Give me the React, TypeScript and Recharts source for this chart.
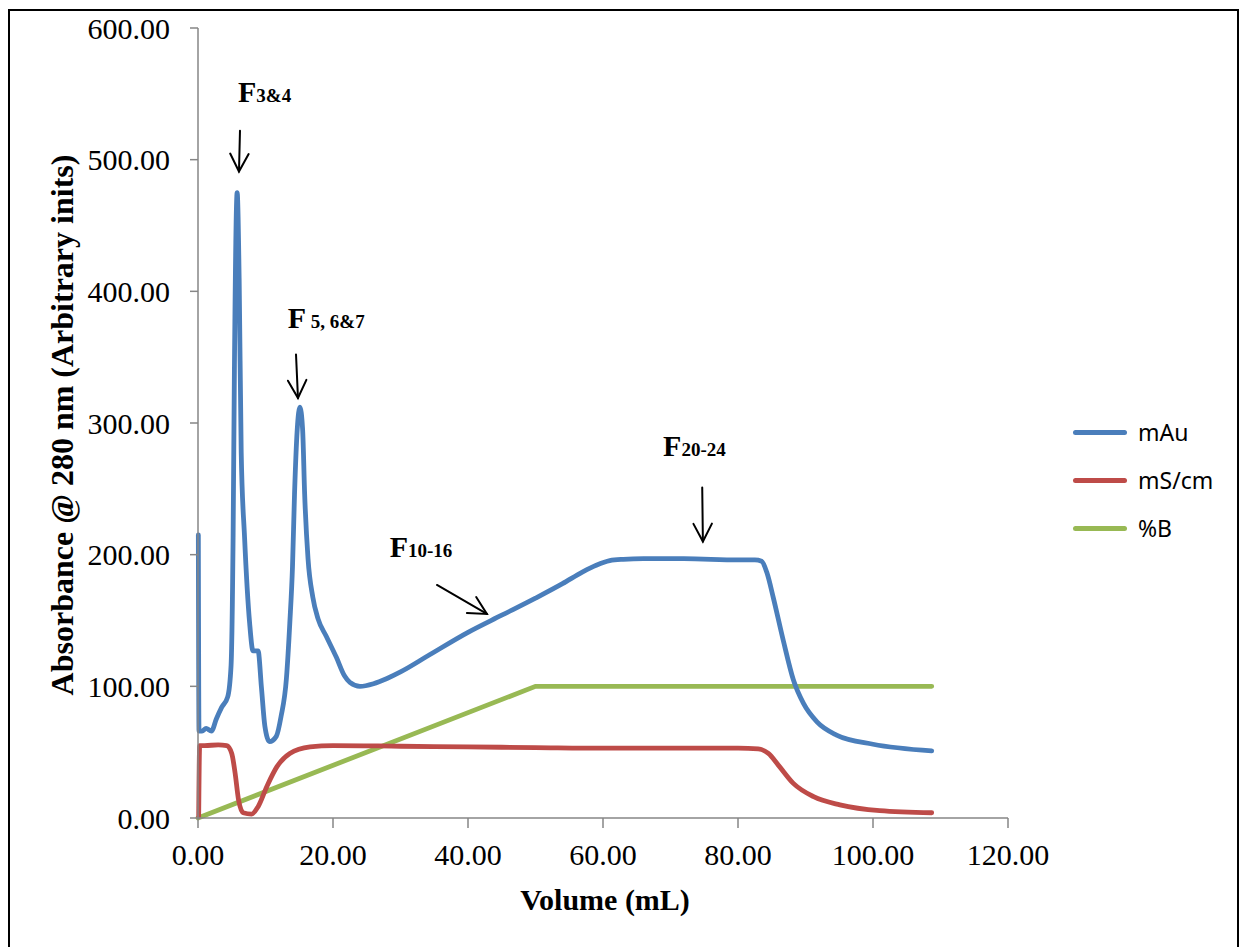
import React from "react";
import { CartesianGrid, Line, LineChart, XAxis, YAxis } from "recharts";

// chromatogram traces (volume in mL)
const mauVolume = [
  0.05, 0.15, 0.6, 1.2, 2.0, 2.7, 3.5, 4.4, 4.9, 5.2, 5.4, 5.8, 6.1, 6.4, 6.9, 7.65, 8.15, 8.9, 9.4,
  9.9, 10.6, 11.6, 12.3, 13.1, 13.6, 14.0, 14.3, 14.7, 15.1, 15.5, 15.8, 16.3, 17.0, 17.8, 19.0,
  20.5, 21.7, 22.5, 24, 26, 28, 30, 34, 40, 45, 50, 54, 57, 59, 61, 63, 66, 72, 80, 82.5, 83.5,
  84.3, 85.2, 86.7, 88.2, 89.7, 91.7, 94.6, 100, 108.7,
];
const mauValue = [
  215, 66, 66, 68, 66, 75, 84, 92, 116, 213, 344, 475, 409, 278, 213, 148, 127, 127, 99, 70, 58,
  62, 77, 106, 148, 191, 246, 295, 312, 295, 246, 197, 168, 151, 138, 122, 108, 103, 100, 102, 106,
  111, 123, 141, 154, 167, 178, 187, 192, 195.5, 196.5, 197, 197, 196, 196, 195, 186, 168, 135, 105,
  87, 73, 63, 56, 51,
];

const condVolume = [
  0.1, 0.25, 1.0, 3.0, 4.25, 5.0, 5.5, 6.0, 6.7, 7.95, 8.9, 10.2, 11.7, 13.6, 16.6, 20, 30, 40, 50,
  60, 70, 80, 83.0, 84.5, 86.0, 88.2, 91.2, 95.1, 101, 108.7,
];
const condValue = [
  1, 55, 55, 55.5, 55, 49, 34, 14, 4, 3, 8.6, 24, 39, 49, 54, 55, 54.5, 54, 53.5, 53, 53, 53, 52.5,
  49, 40, 26.3, 16.2, 10, 5.6, 4,
];

const bufferVolume = [0, 50, 108.7];
const bufferValue = [0, 100, 100];

const xTicks = [0, 20, 40, 60, 80, 100, 120];
const yTicks = [0, 100, 200, 300, 400, 500, 600];

const seriesNames = ["mAu", "mS/cm", "%B"];
const seriesColors = ["#4A7EBB", "#BE4B48", "#98B954"];

// fraction labels: text anchor and arrow tail/tip, in data units
const fractionSubs = ["3&4", " 5, 6&7", "10-16", "20-24"];
const fractionText = [
  [5.93, 544],
  [13.3, 372],
  [28.4, 198],
  [68.9, 275],
];
const fractionArrow = [
  [6.22, 522, 6.07, 491],
  [14.52, 352, 14.81, 319],
  [35.4, 177, 42.8, 155],
  [74.7, 251, 74.8, 210],
];

const W = 1242;
const H = 947;
const PLOT_L = 198;
const PLOT_T = 28;
const PLOT_W = 810;
const PLOT_H = 790;
const px = (v: number) => PLOT_L + (v / 120) * PLOT_W;
const py = (v: number) => PLOT_T + PLOT_H - (v / 600) * PLOT_H;

const zip = (xs: number[], ys: number[]) => xs.map((x, i) => ({ vol: x, v: ys[i] }));
const mauData = zip(mauVolume, mauValue);
const condData = zip(condVolume, condValue);
const bufferData = zip(bufferVolume, bufferValue);

const serif = "'Liberation Serif', 'Times New Roman', serif";
const axisGrey = "#868686";

function Arrow({ x1, y1, x2, y2 }: { x1: number; y1: number; x2: number; y2: number }) {
  const a = Math.atan2(y2 - y1, x2 - x1);
  const len = 20;
  const spread = 0.48;
  const hx1 = x2 - len * Math.cos(a - spread);
  const hy1 = y2 - len * Math.sin(a - spread);
  const hx2 = x2 - len * Math.cos(a + spread);
  const hy2 = y2 - len * Math.sin(a + spread);
  return (
    <g stroke="#000" strokeWidth={2} fill="none" strokeLinecap="round">
      <line x1={x1} y1={y1} x2={x2} y2={y2} />
      <polyline points={`${hx1},${hy1} ${x2},${y2} ${hx2},${hy2}`} />
    </g>
  );
}

export default function App() {
  return (
    <div
      style={{
        position: "absolute",
        left: 0,
        top: 0,
        width: W,
        height: H,
        overflow: "hidden",
        background: "#fff",
      }}
    >
      <div
        style={{
          position: "absolute",
          left: 8,
          top: 9,
          width: 1231,
          height: 960,
          border: "2px solid #000",
          boxSizing: "border-box",
        }}
      />
      <div style={{ position: "absolute", left: 0, top: 0 }}>
        <LineChart width={W} height={H} margin={{ top: PLOT_T, right: W - PLOT_L - PLOT_W, bottom: 69, left: 98 }}>
          <CartesianGrid stroke="none" />
          <XAxis
            type="number"
            dataKey="vol"
            domain={[0, 120]}
            ticks={xTicks}
            height={60}
            tickFormatter={(v) => Number(v).toFixed(2)}
            tick={{ fontFamily: serif, fontSize: 30, fill: "#000" }}
            axisLine={{ stroke: axisGrey, strokeWidth: 1.5 }}
            tickLine={{ stroke: axisGrey, strokeWidth: 1.5 }}
            tickSize={10}
            tickMargin={16}
          />
          <YAxis
            type="number"
            domain={[0, 600]}
            ticks={yTicks}
            width={100}
            tickFormatter={(v) => Number(v).toFixed(2)}
            tick={{ fontFamily: serif, fontSize: 30, fill: "#000" }}
            axisLine={{ stroke: axisGrey, strokeWidth: 1.5 }}
            tickLine={{ stroke: axisGrey, strokeWidth: 1.5 }}
            tickSize={8}
            tickMargin={20}
          />
          <Line
            data={bufferData}
            dataKey="v"
            type="linear"
            stroke={seriesColors[2]}
            strokeWidth={4.8}
            strokeLinecap="round"
            dot={false}
            isAnimationActive={false}
          />
          <Line
            data={condData}
            dataKey="v"
            type="monotone"
            stroke={seriesColors[1]}
            strokeWidth={4.8}
            strokeLinecap="round"
            dot={false}
            isAnimationActive={false}
          />
          <Line
            data={mauData}
            dataKey="v"
            type="monotone"
            stroke={seriesColors[0]}
            strokeWidth={4.8}
            strokeLinecap="round"
            dot={false}
            isAnimationActive={false}
          />
        </LineChart>
      </div>

      <svg width={W} height={H} style={{ position: "absolute", left: 0, top: 0, pointerEvents: "none" }}>
        <text
          transform="translate(73,425) rotate(-90)"
          textAnchor="middle"
          fontFamily={serif}
          fontWeight="bold"
          fontSize={32}
          fill="#000"
        >
          Absorbance @ 280 nm (Arbitrary inits)
        </text>
        <text x={605} y={910} textAnchor="middle" fontFamily={serif} fontWeight="bold" fontSize={30} fill="#000">
          Volume (mL)
        </text>
        {fractionSubs.map((sub, i) => {
          const [tx, ty] = fractionText[i];
          const [ax1, ay1, ax2, ay2] = fractionArrow[i];
          return (
            <g key={sub}>
              <text x={px(tx)} y={py(ty)} fontFamily={serif} fontWeight="bold" fontSize={30} fill="#000">
                F<tspan fontSize={19}>{sub}</tspan>
              </text>
              <Arrow x1={px(ax1)} y1={py(ay1)} x2={px(ax2)} y2={py(ay2)} />
            </g>
          );
        })}
      </svg>

      <div style={{ position: "absolute", left: 1073, top: 408 }}>
        {seriesNames.map((name, i) => (
          <div key={name} style={{ display: "flex", alignItems: "center", height: 48 }}>
            <div style={{ width: 54, height: 5, borderRadius: 3, background: seriesColors[i] }} />
            <span
              style={{
                marginLeft: 11,
                fontFamily: "'Noto Sans', 'Open Sans', sans-serif",
                fontSize: 23,
                color: "#000",
              }}
            >
              {name}
            </span>
          </div>
        ))}
      </div>
    </div>
  );
}
